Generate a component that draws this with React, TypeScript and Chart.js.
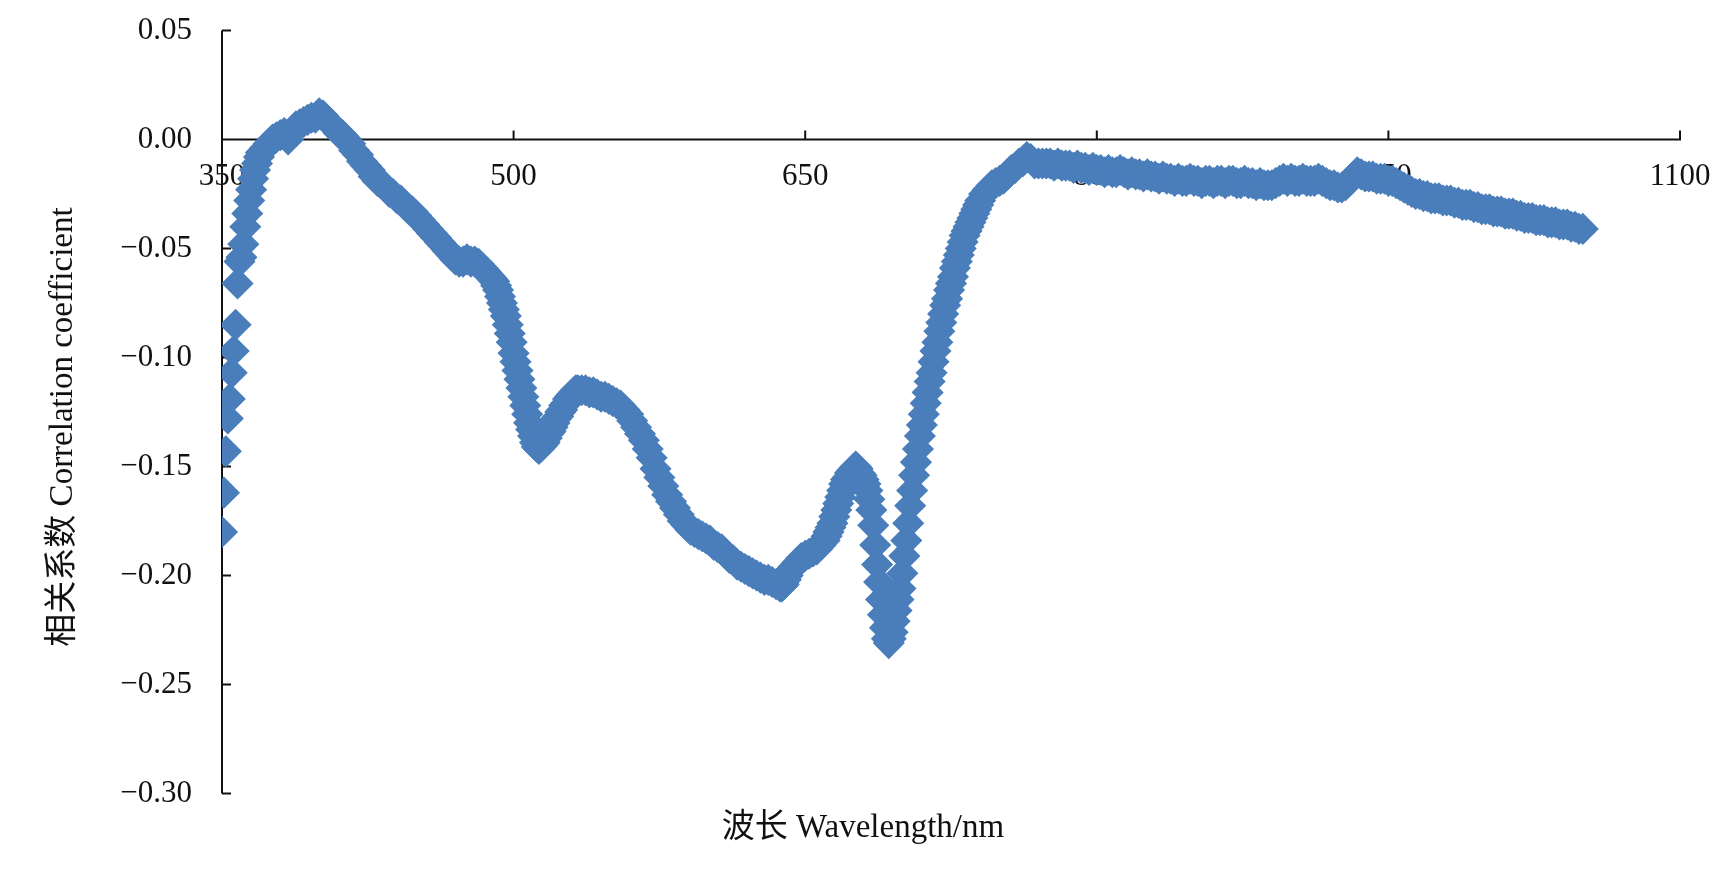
import React, { useEffect, useRef } from "react";
import { Chart, registerables } from "chart.js";

Chart.register(...registerables);

// [wavelength nm, correlation coefficient]
const uvBlue: [number, number][] = [
  [350, -0.180], [351, -0.162], [352, -0.143], [353, -0.128], [354, -0.119], [355, -0.107], [356, -0.097],
  [357, -0.085], [358, -0.066], [359, -0.056], [360, -0.054], [361, -0.048], [362, -0.040], [363, -0.034],
  [364, -0.028], [365, -0.023], [366, -0.018], [367, -0.014], [368, -0.011], [369, -0.008], [370, -0.006],
  [372, -0.004], [374, -0.002], [376, 0.000], [378, 0.001], [380, 0.002], [382, 0.003], [384, 0.000],
  [386, 0.004], [388, 0.006], [390, 0.007], [392, 0.008], [394, 0.009], [396, 0.010], [398, 0.010],
  [400, 0.012], [402, 0.011], [404, 0.009], [406, 0.007], [408, 0.005], [410, 0.003], [412, 0.002],
  [414, 0.000], [416, -0.002], [418, -0.005], [420, -0.007], [422, -0.010], [424, -0.012], [426, -0.014],
  [428, -0.017], [430, -0.019], [432, -0.020], [434, -0.022], [436, -0.024], [438, -0.025], [440, -0.027],
  [442, -0.028], [444, -0.030], [446, -0.032], [448, -0.033], [450, -0.035], [452, -0.037], [454, -0.039],
  [456, -0.041], [458, -0.043], [460, -0.045], [462, -0.047], [464, -0.049], [466, -0.051], [468, -0.053],
  [470, -0.055], [472, -0.056], [474, -0.056], [476, -0.055], [478, -0.056], [480, -0.056], [482, -0.057],
  [484, -0.059],
];

const greenRed: [number, number][] = [
  [485, -0.060], [486, -0.061], [487, -0.062], [488, -0.063], [489, -0.064], [490, -0.065], [491, -0.067],
  [492, -0.069], [493, -0.072], [494, -0.075], [495, -0.078], [496, -0.081], [497, -0.085], [498, -0.089],
  [499, -0.093], [500, -0.098], [501, -0.102], [502, -0.106], [503, -0.110], [504, -0.114], [505, -0.118],
  [506, -0.122], [507, -0.126], [508, -0.130], [509, -0.133], [510, -0.136], [511, -0.139], [512, -0.141],
  [513, -0.142], [514, -0.141], [515, -0.140], [516, -0.139], [517, -0.137], [518, -0.135], [519, -0.134],
  [520, -0.132], [521, -0.130], [522, -0.128], [523, -0.127], [524, -0.125], [525, -0.124], [526, -0.122],
  [527, -0.121], [528, -0.119], [529, -0.118], [530, -0.117], [531, -0.116], [532, -0.115], [533, -0.115],
  [535, -0.115], [537, -0.115], [539, -0.116], [541, -0.116], [543, -0.117], [545, -0.118], [547, -0.118],
  [549, -0.119], [551, -0.120], [553, -0.121], [555, -0.122], [557, -0.124], [559, -0.126], [561, -0.129],
  [563, -0.132], [565, -0.135], [567, -0.138], [569, -0.142], [571, -0.146], [573, -0.151], [575, -0.155],
  [577, -0.159], [579, -0.163], [581, -0.166], [583, -0.169], [585, -0.172], [587, -0.175], [589, -0.177],
  [591, -0.179], [593, -0.180], [595, -0.181], [597, -0.182], [599, -0.183], [601, -0.184], [603, -0.186],
  [605, -0.187], [607, -0.188], [609, -0.190], [611, -0.192], [613, -0.193], [615, -0.195], [617, -0.196],
  [619, -0.197], [621, -0.198], [623, -0.199], [625, -0.200], [627, -0.201], [629, -0.202], [631, -0.202],
  [633, -0.203], [635, -0.204], [637, -0.205], [638, -0.205], [639, -0.204], [640, -0.202], [641, -0.200],
  [642, -0.198], [644, -0.196], [646, -0.194], [648, -0.192], [650, -0.191], [652, -0.190], [654, -0.189],
  [656, -0.188], [658, -0.186], [660, -0.184], [661, -0.182], [662, -0.180], [663, -0.178], [664, -0.176],
  [665, -0.173], [666, -0.170], [667, -0.167], [668, -0.164], [669, -0.161], [670, -0.158], [671, -0.156],
  [672, -0.155], [673, -0.153], [674, -0.152], [675, -0.151], [676, -0.150], [677, -0.151], [678, -0.153],
  [679, -0.154], [680, -0.156], [681, -0.158], [682, -0.161],
];

const redEdge: [number, number][] = [
  [683, -0.165], [684, -0.170], [685, -0.177], [686, -0.186], [687, -0.195], [688, -0.203], [689, -0.211],
  [690, -0.218], [691, -0.224], [692, -0.229], [693, -0.231], [694, -0.229], [695, -0.226], [696, -0.221],
  [697, -0.216], [698, -0.211], [699, -0.206], [700, -0.199], [701, -0.191], [702, -0.184], [703, -0.176],
  [704, -0.168], [705, -0.161], [706, -0.154], [707, -0.148], [708, -0.142], [709, -0.136], [710, -0.131],
  [711, -0.126], [712, -0.121], [713, -0.116], [714, -0.111], [715, -0.107], [716, -0.102], [717, -0.097],
  [718, -0.093], [719, -0.088], [720, -0.084], [721, -0.080], [722, -0.076], [723, -0.073], [724, -0.069],
  [725, -0.066], [726, -0.063], [727, -0.059], [728, -0.056], [729, -0.053], [730, -0.050], [731, -0.047],
  [732, -0.044], [733, -0.042], [734, -0.040], [735, -0.038], [736, -0.036], [737, -0.034], [738, -0.032],
  [739, -0.030], [740, -0.028], [742, -0.025], [744, -0.023], [746, -0.021], [748, -0.020], [750, -0.019],
  [752, -0.018], [754, -0.016], [756, -0.014], [758, -0.013], [760, -0.011], [762, -0.010], [764, -0.008],
  [766, -0.009], [768, -0.011], [770, -0.011],
];

const nearInfrared: [number, number][] = [
  [772, -0.011], [774, -0.011], [776, -0.011], [778, -0.012], [780, -0.011], [782, -0.012], [784, -0.012],
  [786, -0.012], [788, -0.013], [790, -0.012], [792, -0.013], [794, -0.013], [796, -0.014], [798, -0.013],
  [800, -0.014], [802, -0.014], [804, -0.015], [806, -0.014], [808, -0.015], [810, -0.015], [812, -0.014],
  [814, -0.015], [816, -0.016], [818, -0.015], [820, -0.016], [822, -0.016], [824, -0.017], [826, -0.016],
  [828, -0.017], [830, -0.017], [832, -0.018], [834, -0.017], [836, -0.018], [838, -0.018], [840, -0.019],
  [842, -0.018], [844, -0.019], [846, -0.019], [848, -0.018], [850, -0.019], [852, -0.019], [854, -0.020],
  [856, -0.019], [858, -0.019], [860, -0.020], [862, -0.019], [864, -0.019], [866, -0.020], [868, -0.019],
  [870, -0.019], [872, -0.020], [874, -0.020], [876, -0.019], [878, -0.020], [880, -0.020], [882, -0.021],
  [884, -0.020], [886, -0.021], [888, -0.021], [890, -0.021], [892, -0.020], [894, -0.019], [896, -0.018],
  [898, -0.019], [900, -0.018], [902, -0.019], [904, -0.019], [906, -0.018], [908, -0.019], [910, -0.019],
  [912, -0.019], [914, -0.018], [916, -0.019], [918, -0.020], [920, -0.021], [922, -0.021], [924, -0.022],
  [926, -0.022], [928, -0.021], [930, -0.019], [932, -0.017], [934, -0.015], [936, -0.016], [938, -0.017],
  [940, -0.017], [942, -0.017], [944, -0.018], [946, -0.018], [948, -0.018], [950, -0.019], [952, -0.019],
  [954, -0.020], [956, -0.021], [958, -0.022], [960, -0.023], [962, -0.024], [964, -0.025], [966, -0.025],
  [968, -0.026], [970, -0.026], [972, -0.027], [974, -0.027], [976, -0.027], [978, -0.028], [980, -0.028],
  [982, -0.028], [984, -0.029], [986, -0.029], [988, -0.030], [990, -0.030], [992, -0.030], [994, -0.031],
  [996, -0.031], [998, -0.032], [1000, -0.032], [1002, -0.032], [1004, -0.033], [1006, -0.033],
  [1008, -0.033], [1010, -0.034], [1012, -0.034], [1014, -0.034], [1016, -0.035], [1018, -0.035],
  [1020, -0.036], [1022, -0.036], [1024, -0.036], [1026, -0.037], [1028, -0.037], [1030, -0.037],
  [1032, -0.038], [1034, -0.038], [1036, -0.038], [1038, -0.039], [1040, -0.039], [1042, -0.039],
  [1044, -0.040], [1046, -0.040], [1048, -0.041], [1050, -0.041],
];

const xTickMin = 350;
const xTickMax = 1100;
const xTickStep = 150;
const yTickMin = -0.3;
const yTickMax = 0.05;
const yTickStep = 0.05;

const xTitle = "波长 Wavelength/nm";
const yTitle = "相关系数 Correlation coefficient";

const MARKER = "#4A7EBB";
const INK = "#111111";
const SERIF = '"Liberation Serif", "Times New Roman", "Noto Sans CJK SC", serif';

const axesPlugin = {
  id: "customAxes",
  beforeDatasetsDraw(chart: any) {
    const { ctx, scales } = chart;
    const xs = scales.x;
    const ys = scales.y;
    const x0 = xs.getPixelForValue(xTickMin);
    const x1 = xs.getPixelForValue(xTickMax);
    const yTop = ys.getPixelForValue(yTickMax);
    const yBot = ys.getPixelForValue(yTickMin);
    const yZero = ys.getPixelForValue(0);
    ctx.save();
    ctx.strokeStyle = INK;
    ctx.lineWidth = 2;
    ctx.beginPath();
    ctx.moveTo(x0, yTop);
    ctx.lineTo(x0, yBot);
    ctx.moveTo(x0, yZero);
    ctx.lineTo(x1, yZero);
    ys.ticks.forEach((t: any) => {
      const py = ys.getPixelForValue(t.value);
      ctx.moveTo(x0, py);
      ctx.lineTo(x0 + 9, py);
    });
    xs.ticks.forEach((t: any) => {
      const px = xs.getPixelForValue(t.value);
      ctx.moveTo(px, yZero + 1);
      ctx.lineTo(px, yZero - 9);
    });
    ctx.stroke();
    ctx.restore();
  },
  afterDraw(chart: any) {
    const { ctx } = chart;
    ctx.save();
    ctx.fillStyle = INK;
    ctx.font = `33px ${SERIF}`;
    ctx.textAlign = "center";
    ctx.textBaseline = "middle";
    ctx.fillText(xTitle, 863, 828);
    ctx.translate(63, 427);
    ctx.rotate(-Math.PI / 2);
    ctx.fillText(yTitle, 0, 0);
    ctx.restore();
  },
};

export default function App() {
  const canvasRef = useRef<HTMLCanvasElement | null>(null);

  useEffect(() => {
    const canvas = canvasRef.current;
    if (!canvas) return;
    const points = [...uvBlue, ...greenRed, ...redEdge, ...nearInfrared].map(([w, v]) => ({ x: w, y: v }));
    const chart = new Chart(canvas, {
      type: "scatter",
      data: {
        datasets: [
          {
            data: points,
            pointStyle: "rectRot",
            pointRadius: 15,
            pointBorderWidth: 1.5,
            backgroundColor: MARKER,
            borderColor: MARKER,
          },
        ],
      },
      options: {
        responsive: false,
        maintainAspectRatio: false,
        animation: false,
        layout: { padding: { left: 0, top: 30.5, right: 46, bottom: 87.5 } },
        plugins: { legend: { display: false }, tooltip: { enabled: false } },
        scales: {
          x: {
            type: "linear",
            position: { y: 0 },
            min: xTickMin,
            max: xTickMax,
            z: 1,
            grid: { display: false, drawTicks: false },
            border: { display: false },
            afterFit: (s: any) => {
              s.paddingLeft = 0;
              s.paddingRight = 0;
            },
            ticks: {
              stepSize: xTickStep,
              autoSkip: false,
              maxRotation: 0,
              padding: 19,
              color: INK,
              font: { family: SERIF, size: 31 },
              callback: (v: any) => String(v),
            },
          },
          y: {
            type: "linear",
            position: "left",
            min: yTickMin,
            max: yTickMax,
            grid: { display: false, drawTicks: false },
            border: { display: false },
            afterFit: (s: any) => {
              s.width = 222;
              s.paddingTop = 0;
              s.paddingBottom = 0;
            },
            ticks: {
              stepSize: yTickStep,
              padding: 30,
              color: INK,
              font: { family: SERIF, size: 31 },
              callback: (v: any) => {
                const n = Number(v);
                if (Math.abs(n) < 1e-9) return "0.00";
                return (n < 0 ? "\u2212" : "") + Math.abs(n).toFixed(2);
              },
            },
          },
        },
      },
      plugins: [axesPlugin],
    });
    return () => chart.destroy();
  }, []);

  return (
    <div style={{ position: "fixed", left: 0, top: 0, width: 1726, height: 881, background: "#fff" }}>
      <canvas ref={canvasRef} width={1726} height={881} style={{ width: 1726, height: 881 }} />
    </div>
  );
}
